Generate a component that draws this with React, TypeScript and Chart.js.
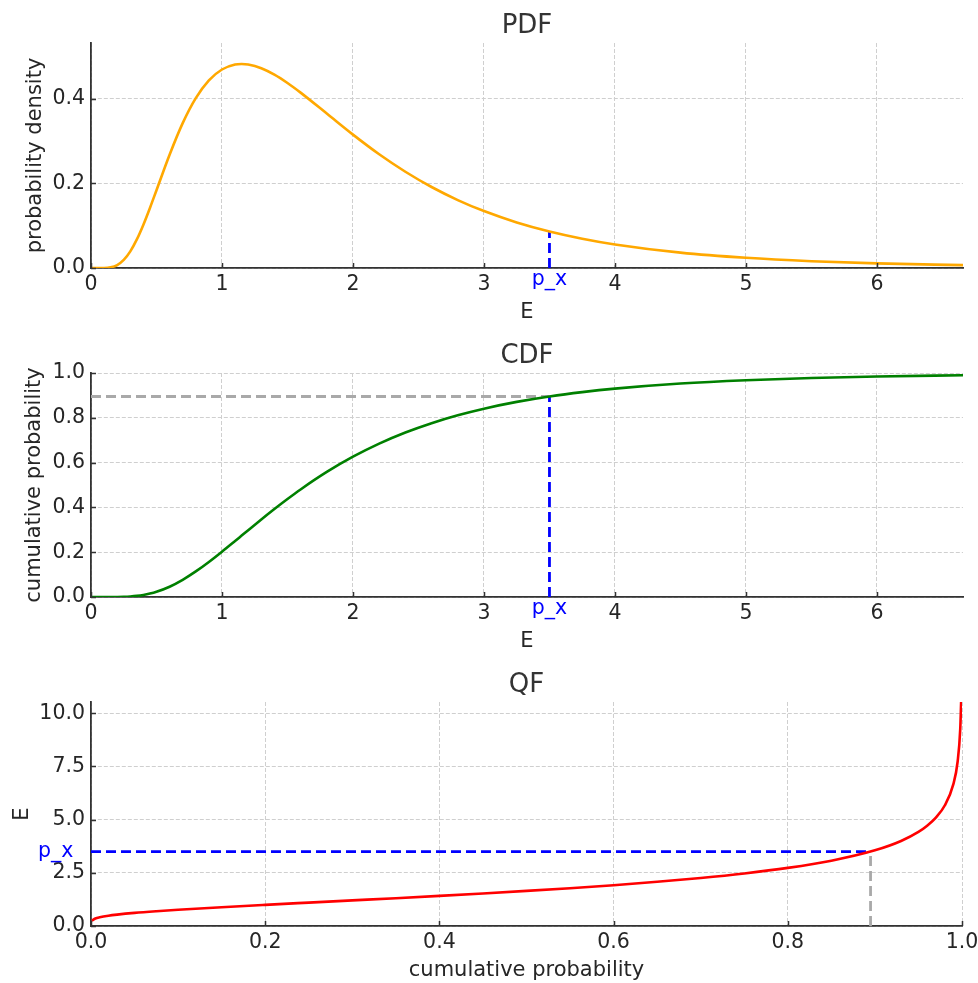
import React, { useEffect, useRef } from 'react';
import { Chart, registerables } from 'chart.js';

Chart.register(...registerables);

const FONT = "'DejaVu Sans', 'Noto Sans', sans-serif";

// ---- data ----
const E_VALUES = [0, 0.1, 0.15, 0.2, 0.25, 0.3, 0.35, 0.4, 0.45, 0.5, 0.6, 0.7, 0.8, 0.9, 1.0, 1.1, 1.15, 1.2, 1.3, 1.4, 1.5, 1.6, 1.8, 2.0, 2.2, 2.4, 2.6, 2.8, 3.0, 3.25, 3.5, 3.75, 4.0, 4.5, 5.0, 5.5, 6.0, 6.657];
const PDF_VALUES = [0, 0.0001, 0.0015, 0.0069, 0.019, 0.0393, 0.0676, 0.1025, 0.1421, 0.1841, 0.2681, 0.3428, 0.402, 0.4441, 0.4698, 0.4815, 0.4828, 0.4816, 0.4729, 0.4576, 0.4378, 0.415, 0.3655, 0.3157, 0.2692, 0.2278, 0.1917, 0.1608, 0.1347, 0.1079, 0.0865, 0.0694, 0.0558, 0.0364, 0.0241, 0.0161, 0.0109, 0.0067];
const CDF_VALUES = [0, 0, 0.00003, 0.0002, 0.0008, 0.0023, 0.0049, 0.0091, 0.0152, 0.0234, 0.046, 0.0767, 0.1141, 0.1565, 0.2023, 0.25, 0.2741, 0.2982, 0.346, 0.3926, 0.4374, 0.4801, 0.5582, 0.6262, 0.6847, 0.7343, 0.7761, 0.8113, 0.8408, 0.871, 0.8952, 0.9146, 0.9302, 0.9529, 0.9678, 0.9777, 0.9843, 0.99];
const QF_PROBS = [0.001, 0.005, 0.01, 0.02, 0.03, 0.05, 0.075, 0.1, 0.15, 0.2, 0.25, 0.3, 0.35, 0.4, 0.45, 0.5, 0.55, 0.6, 0.65, 0.7, 0.75, 0.8, 0.85, 0.9, 0.93, 0.95, 0.96, 0.97, 0.98, 0.99, 0.995, 0.998, 0.999];
const QF_VALUES = [0.258, 0.352, 0.408, 0.481, 0.533, 0.615, 0.695, 0.764, 0.885, 0.995, 1.1, 1.204, 1.308, 1.416, 1.529, 1.649, 1.778, 1.919, 2.078, 2.258, 2.471, 2.732, 3.07, 3.557, 3.997, 4.424, 4.714, 5.096, 5.653, 6.658, 7.733, 9.271, 10.53];

const E_TICKS = [0, 1, 2, 3, 4, 5, 6];
const PDF_TICKS = [0, 0.2, 0.4];
const CDF_TICKS = [0, 0.2, 0.4, 0.6, 0.8, 1.0];
const QF_P_TICKS = [0, 0.2, 0.4, 0.6, 0.8, 1.0];
const QF_E_TICKS = [0, 2.5, 5, 7.5, 10];

const P_X = 3.5;
const P_PROB = 0.895;
const P_DENS = 0.0865;
const P_LABEL = 'p_x';

const E_MAX = 6.657;
const PDF_MAX = 0.5325;
const QF_MAX = 10.53;

// ---- styles ----
const TITLE_COLOR = '#333333';
const TEXT_COLOR = '#262626';
const SPINE = '#333333';
const GRID = '#cfcfcf';
const MARK_BLUE = '#0000ff';
const MARK_GREY = '#a9a9a9';
const TICK_SIZE = 20.5;

const inwardTicks = {
  id: 'inwardTicks',
  afterDraw(chart: any) {
    const { ctx, chartArea, scales } = chart;
    const xs = scales.x;
    const ys = scales.y;
    ctx.save();
    ctx.strokeStyle = SPINE;
    ctx.lineWidth = 1.5;
    ctx.beginPath();
    for (const t of xs.ticks) {
      const px = Math.round(xs.getPixelForValue(t.value)) + 0.5;
      ctx.moveTo(px, chartArea.bottom);
      ctx.lineTo(px, chartArea.bottom - 5);
    }
    for (const t of ys.ticks) {
      const py = Math.round(ys.getPixelForValue(t.value)) + 0.5;
      ctx.moveTo(chartArea.left, py);
      ctx.lineTo(chartArea.left + 5, py);
    }
    ctx.stroke();
    ctx.restore();
  },
};

const pxLabel = {
  id: 'pxLabel',
  afterDraw(chart: any, _args: any, opts: any) {
    if (!opts || !opts.axis) return;
    const { ctx, chartArea, scales } = chart;
    ctx.save();
    ctx.font = `${TICK_SIZE}px ${FONT}`;
    ctx.fillStyle = MARK_BLUE;
    ctx.textBaseline = 'alphabetic';
    if (opts.axis === 'x') {
      ctx.textAlign = 'center';
      ctx.fillText(opts.text, scales.x.getPixelForValue(opts.value), chartArea.bottom + 17);
    } else {
      ctx.textAlign = 'right';
      ctx.fillText(opts.text, chartArea.left - 17.5, scales.y.getPixelForValue(opts.value) + 5.8);
    }
    ctx.restore();
  },
};

Chart.register(inwardTicks, pxLabel);

function fixedTicks(values: number[]) {
  return (scale: any) => {
    scale.ticks = values.map((v) => ({ value: v }));
  };
}

type PanelSpec = {
  title: string;
  titlePadTop: number;
  titlePadBottom: number;
  datasets: any[];
  xTitle: string;
  yTitle: string;
  xMin: number;
  xMax: number;
  yMin: number;
  yMax: number;
  xTicks: number[];
  yTicks: number[];
  xFmt: (v: number) => string;
  yFmt: (v: number) => string;
  yTitlePad: number;
  xAxisHeight: number;
  xTitlePadBottom: number;
  xTickPad: number;
  rightPad: number;
  marker: { axis: string; value: number; text: string };
};

function buildConfig(s: PanelSpec): any {
  return {
    type: 'line',
    data: { datasets: s.datasets },
    options: {
      responsive: false,
      animation: false,
      devicePixelRatio: 1,
      layout: { padding: { left: 0, right: s.rightPad, top: 0, bottom: 0 } },
      plugins: {
        legend: { display: false },
        tooltip: { enabled: false },
        title: {
          display: true,
          text: s.title,
          color: TITLE_COLOR,
          fullSize: false,
          font: { family: FONT, size: 26, weight: 'normal' },
          padding: { top: s.titlePadTop, bottom: s.titlePadBottom },
        },
        pxLabel: s.marker,
      },
      elements: { point: { radius: 0 } },
      scales: {
        x: {
          type: 'linear',
          min: s.xMin,
          max: s.xMax,
          afterBuildTicks: fixedTicks(s.xTicks),
          afterFit: (sc: any) => {
            sc.height = s.xAxisHeight;
            sc.paddingLeft = 0;
            sc.paddingRight = 0;
          },
          ticks: {
            autoSkip: false,
            maxRotation: 0,
            minRotation: 0,
            padding: s.xTickPad,
            color: TEXT_COLOR,
            font: { family: FONT, size: TICK_SIZE },
            callback: (v: number) => s.xFmt(v),
          },
          grid: { color: GRID, lineWidth: 1, drawTicks: false },
          border: { display: true, color: SPINE, width: 1.8, dash: [4, 2] },
          title: {
            display: true,
            text: s.xTitle,
            color: TEXT_COLOR,
            font: { family: FONT, size: 21 },
            padding: { top: 0, bottom: s.xTitlePadBottom },
          },
        },
        y: {
          type: 'linear',
          min: s.yMin,
          max: s.yMax,
          afterBuildTicks: fixedTicks(s.yTicks),
          afterFit: (sc: any) => {
            sc.width = 91;
            sc.paddingTop = 0;
            sc.paddingBottom = 0;
          },
          ticks: {
            autoSkip: false,
            padding: 6,
            color: TEXT_COLOR,
            font: { family: FONT, size: TICK_SIZE },
            callback: (v: number) => s.yFmt(v),
          },
          grid: { color: GRID, lineWidth: 1, drawTicks: false },
          border: { display: true, color: SPINE, width: 1.8, dash: [4, 2] },
          title: {
            display: true,
            text: s.yTitle,
            color: TEXT_COLOR,
            font: { family: FONT, size: 21 },
            padding: { top: s.yTitlePad, bottom: 0 },
          },
        },
      },
    },
  };
}

function curve(xs: number[], ys: number[], color: string) {
  return {
    data: xs.map((x, i) => ({ x, y: ys[i] })),
    borderColor: color,
    borderWidth: 2.6,
    pointRadius: 0,
    fill: false,
    cubicInterpolationMode: 'monotone',
  };
}

function dashed(points: { x: number; y: number }[], color: string) {
  return {
    data: points,
    borderColor: color,
    borderWidth: 2.8,
    borderDash: [10, 5],
    pointRadius: 0,
    fill: false,
    tension: 0,
  };
}

const fmtInt = (v: number) => String(Math.round(v));
const fmt1 = (v: number) => v.toFixed(1);

function pdfSpec(): PanelSpec {
  return {
    title: 'PDF',
    titlePadTop: 10.5,
    titlePadBottom: 1.3,
    datasets: [
      curve(E_VALUES, PDF_VALUES, '#FFA800'),
      dashed([{ x: P_X, y: 0 }, { x: P_X, y: P_DENS }], MARK_BLUE),
    ],
    xTitle: 'E',
    yTitle: 'probability density',
    xMin: 0,
    xMax: E_MAX,
    yMin: 0,
    yMax: PDF_MAX,
    xTicks: E_TICKS,
    yTicks: PDF_TICKS,
    xFmt: fmtInt,
    yFmt: fmt1,
    yTitlePad: 22.7,
    xAxisHeight: 62,
    xTitlePadBottom: 5,
    xTickPad: 3.9,
    rightPad: 15,
    marker: { axis: 'x', value: P_X, text: P_LABEL },
  };
}

function cdfSpec(): PanelSpec {
  return {
    title: 'CDF',
    titlePadTop: 10.5,
    titlePadBottom: 1.3,
    datasets: [
      curve(E_VALUES, CDF_VALUES, '#008000'),
      dashed([{ x: P_X, y: 0 }, { x: P_X, y: P_PROB }], MARK_BLUE),
      dashed([{ x: 0, y: P_PROB }, { x: P_X, y: P_PROB }], MARK_GREY),
    ],
    xTitle: 'E',
    yTitle: 'cumulative probability',
    xMin: 0,
    xMax: E_MAX,
    yMin: 0,
    yMax: 1,
    xTicks: E_TICKS,
    yTicks: CDF_TICKS,
    xFmt: fmtInt,
    yFmt: fmt1,
    yTitlePad: 22.4,
    xAxisHeight: 63,
    xTitlePadBottom: 5.4,
    xTickPad: 3.9,
    rightPad: 15,
    marker: { axis: 'x', value: P_X, text: P_LABEL },
  };
}

function qfSpec(): PanelSpec {
  return {
    title: 'QF',
    titlePadTop: 10,
    titlePadBottom: 0.8,
    datasets: [
      curve(QF_PROBS, QF_VALUES, '#FF0000'),
      dashed([{ x: 0, y: P_X }, { x: P_PROB, y: P_X }], MARK_BLUE),
      dashed([{ x: P_PROB, y: 0 }, { x: P_PROB, y: P_X }], MARK_GREY),
    ],
    xTitle: 'cumulative probability',
    yTitle: 'E',
    xMin: 0,
    xMax: 1,
    yMin: 0,
    yMax: QF_MAX,
    xTicks: QF_P_TICKS,
    yTicks: QF_E_TICKS,
    xFmt: fmt1,
    yFmt: fmt1,
    yTitlePad: 9.7,
    xAxisHeight: 57,
    xTitlePadBottom: 0.3,
    xTickPad: 4.4,
    rightPad: 16,
    marker: { axis: 'y', value: P_X, text: P_LABEL },
  };
}

function Panel({ make, top, height }: { make: () => PanelSpec; top: number; height: number }) {
  const ref = useRef<HTMLCanvasElement>(null);
  useEffect(() => {
    if (!ref.current) return;
    const chart = new Chart(ref.current, buildConfig(make()));
    return () => chart.destroy();
  }, []);
  return (
    <canvas
      ref={ref}
      width={978}
      height={height}
      style={{ position: 'absolute', left: 0, top, width: 978, height, display: 'block' }}
    />
  );
}

export default function App() {
  return (
    <div
      style={{
        position: 'fixed',
        left: 0,
        top: 0,
        width: 978,
        height: 983,
        background: '#ffffff',
        overflow: 'hidden',
      }}
    >
      <Panel make={pdfSpec} top={0} height={330} />
      <Panel make={cdfSpec} top={330} height={330} />
      <Panel make={qfSpec} top={660} height={323} />
    </div>
  );
}
